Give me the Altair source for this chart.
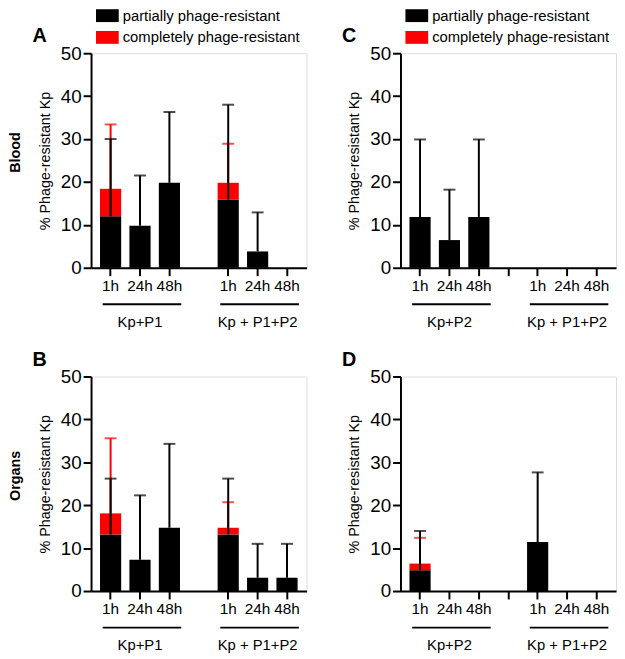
import altair as alt
import pandas as pd

FONT = "Liberation Sans"
GROUP_KEYS = ["a", "b"]
TIME_LABELS = ["1h", "24h", "48h"]
BAR_SLOTS = [f"{g}|{t}" for g in GROUP_KEYS for t in TIME_LABELS]
SLOTS = BAR_SLOTS[:3] + ["gap|"] + BAR_SLOTS[3:]
SERIES = ["partially phage-resistant", "completely phage-resistant"]
COLORS = ["#000000", "#FF0000"]
LEFT_GROUPS = ["Kp+P1", "Kp + P1+P2"]
RIGHT_GROUPS = ["Kp+P2", "Kp + P1+P2"]
Y_TICKS = [0, 10, 20, 30, 40, 50]
Y_TITLE = "% Phage-resistant Kp"

# Panel A (Blood, Kp+P1 / Kp+P1+P2)
A_partial = [12.0, 9.8, 19.8, 15.9, 3.8, 0.0]
A_partial_sd = [18.0, 11.7, 16.5, 22.1, 9.1, 0.0]
A_complete = [6.4, 0.0, 0.0, 3.9, 0.0, 0.0]
A_complete_sd = [15.0, 0.0, 0.0, 9.1, 0.0, 0.0]

# Panel B (Organs, Kp+P1 / Kp+P1+P2)
B_partial = [13.2, 7.3, 14.75, 13.2, 3.1, 3.1]
B_partial_sd = [13.0, 15.0, 19.55, 13.0, 7.9, 7.9]
B_complete = [4.9, 0.0, 0.0, 1.55, 0.0, 0.0]
B_complete_sd = [17.5, 0.0, 0.0, 5.95, 0.0, 0.0]

# Panel C (Blood, Kp+P2 / Kp+P1+P2)
C_partial = [11.8, 6.45, 11.8, 0.0, 0.0, 0.0]
C_partial_sd = [18.1, 11.75, 18.1, 0.0, 0.0, 0.0]
C_complete = [0.0, 0.0, 0.0, 0.0, 0.0, 0.0]
C_complete_sd = [0.0, 0.0, 0.0, 0.0, 0.0, 0.0]

# Panel D (Organs, Kp+P2 / Kp+P1+P2)
D_partial = [4.85, 0.0, 0.0, 11.4, 0.0, 0.0]
D_partial_sd = [9.15, 0.0, 0.0, 16.25, 0.0, 0.0]
D_complete = [1.55, 0.0, 0.0, 0.0, 0.0, 0.0]
D_complete_sd = [6.0, 0.0, 0.0, 0.0, 0.0, 0.0]

W, H = 218, 217


def panel(letter, row_label, partial, psd, complete, csd, groups, gap_tick, legend):
    df = pd.DataFrame({"slot": BAR_SLOTS, "partial": partial, "psd": psd,
                       "complete": complete, "csd": csd})
    base = alt.Chart(df).transform_calculate(
        total="datum.partial + datum.complete",
        ptop="datum.partial + datum.psd",
        ctop="datum.partial + datum.complete + datum.csd",
    )
    xs = alt.Scale(domain=SLOTS, paddingInner=0.28, paddingOuter=0.305)
    ys = alt.Scale(domain=[0, 50])
    x_axis = alt.Axis(
        values=SLOTS if gap_tick else BAR_SLOTS,
        labelExpr="split(datum.value, '|')[1]",
        title=None, labelAngle=0, labelFontSize=15.5, labelPadding=3,
        labelFont=FONT, labelColor="black", tickSize=8, tickWidth=2,
        tickColor="black", domainColor="black", domainWidth=2, grid=False,
    )
    y_axis = alt.Axis(
        values=Y_TICKS, title=Y_TITLE, titleFontSize=14.5, titleFontWeight="normal",
        titleFont=FONT, titleColor="black", titlePadding=8,
        labelFontSize=19, labelFont=FONT, labelColor="black", labelPadding=2,
        tickSize=8, tickWidth=2, tickColor="black", domainColor="black",
        domainWidth=2, grid=False,
    )

    def X(field="slot"):
        return alt.X(f"{field}:N", scale=xs, axis=x_axis)

    def Y(field):
        return alt.Y(f"{field}:Q", scale=ys, axis=y_axis)

    layers = []
    layers.append(base.transform_filter("datum.partial > 0").mark_bar(color=COLORS[0]).encode(
        x=X(), y=Y("partial")))
    layers.append(base.transform_filter("datum.complete > 0").mark_bar(color=COLORS[1]).encode(
        x=X(), y=Y("partial"), y2="total:Q"))
    layers.append(base.transform_filter("datum.csd > 0").mark_rule(color=COLORS[1], strokeWidth=2).encode(
        x=X(), y=Y("total"), y2="ctop:Q"))
    layers.append(base.transform_filter("datum.csd > 0").mark_tick(
        color=COLORS[1], orient="horizontal", size=12, thickness=2).encode(x=X(), y=Y("ctop")))
    layers.append(base.transform_filter("datum.psd > 0").mark_rule(color=COLORS[0], strokeWidth=2).encode(
        x=X(), y=Y("partial"), y2="ptop:Q"))
    layers.append(base.transform_filter("datum.psd > 0").mark_tick(
        color=COLORS[0], orient="horizontal", size=12, thickness=2).encode(x=X(), y=Y("ptop")))

    # group underlines and labels
    gdf = pd.DataFrame({
        "start": [f"{g}|{TIME_LABELS[0]}" for g in GROUP_KEYS],
        "mid": [f"{g}|{TIME_LABELS[1]}" for g in GROUP_KEYS],
        "end": [f"{g}|{TIME_LABELS[2]}" for g in GROUP_KEYS],
        "label": groups,
    })
    layers.append(alt.Chart(gdf).mark_rule(color="black", strokeWidth=2, xOffset=-8, x2Offset=12).encode(
        x=X("start"), x2="end:N", y=alt.value(H + 37)))
    layers.append(alt.Chart(gdf).mark_text(font=FONT, fontSize=15, color="black", baseline="middle").encode(
        x=X("mid"), y=alt.value(H + 55), text="label:N"))

    # panel letter
    layers.append(alt.Chart(pd.DataFrame({"t": [letter]})).mark_text(
        font=FONT, fontSize=20, fontWeight="bold", color="black", baseline="middle").encode(
        x=alt.value(-52), y=alt.value(-17), text="t:N"))

    if row_label:
        layers.append(alt.Chart(pd.DataFrame({"t": [row_label]})).mark_text(
            font=FONT, fontSize=14.5, fontWeight="bold", color="black", baseline="middle",
            angle=270).encode(x=alt.value(-76), y=alt.value(H / 2 - 8), text="t:N"))

    if legend:
        for i, (s, c) in enumerate(zip(SERIES, COLORS)):
            yc = -38 + 22 * i
            layers.append(alt.Chart(pd.DataFrame({"s": [s]})).mark_rect(color=c).encode(
                x=alt.value(5), x2=alt.value(28), y=alt.value(yc - 6.5), y2=alt.value(yc + 6.5)))
            layers.append(alt.Chart(pd.DataFrame({"s": [s]})).mark_text(
                font=FONT, fontSize=15, color="black", align="left", baseline="middle").encode(
                x=alt.value(32), y=alt.value(yc), text="s:N"))

    return alt.layer(*layers).properties(width=W, height=H)


A = panel("A", "Blood", A_partial, A_partial_sd, A_complete, A_complete_sd, LEFT_GROUPS, False, True)
C = panel("C", None, C_partial, C_partial_sd, C_complete, C_complete_sd, RIGHT_GROUPS, True, True)
B = panel("B", "Organs", B_partial, B_partial_sd, B_complete, B_complete_sd, LEFT_GROUPS, False, False)
D = panel("D", None, D_partial, D_partial_sd, D_complete, D_complete_sd, RIGHT_GROUPS, True, False)

chart = alt.vconcat(
    alt.hconcat(A, C, spacing=34),
    alt.hconcat(B, D, spacing=34),
    spacing=18,
).properties(
    padding={"left": -1, "top": -4, "right": 0, "bottom": 0}
).configure_view(stroke=None).configure(font=FONT, background="white")

chart.save("out.html", embed_options={"renderer": "svg", "actions": False})
